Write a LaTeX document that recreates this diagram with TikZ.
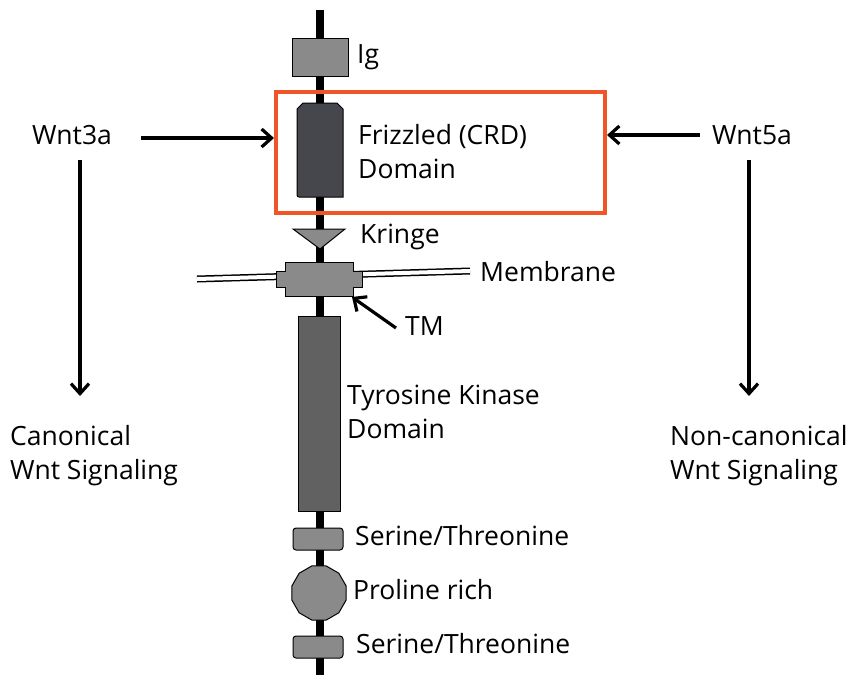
\documentclass[tikz,border=0pt]{standalone}
\usepackage{fontspec}
\setmainfont{Open Sans}
\usetikzlibrary{arrows.meta,shapes.geometric}
\definecolor{dom}{HTML}{8A8A8A}
\definecolor{dark}{HTML}{46474C}
\definecolor{tk}{HTML}{616161}
\definecolor{hl}{HTML}{F05528}
\begin{document}
\begin{tikzpicture}[x=1pt,y=-1pt,
  lbl/.style={anchor=west,inner sep=0pt,font=\fontsize{26.5}{34}\selectfont,align=left},
  ctr/.style={inner sep=0pt,font=\fontsize{26.5}{34}\selectfont},
  dombox/.style={draw=black,line width=1pt,fill=dom},
  arr/.style={line width=3.2pt,-{Straight Barb[length=10pt,width=18pt,line width=3.2pt]}}]
\useasboundingbox (0,0) rectangle (853,675);
% backbone
\draw[line width=8pt] (320,10) -- (320,675);
% membrane
\draw[line width=7pt,black] (197,279) -- (470,271);
\draw[line width=4pt,white] (197,279) -- (470,271);
% Ig
\node[dombox,minimum width=56pt,minimum height=38pt,inner sep=0pt] (ig) at (320,57) {};
\node[lbl] (iglbl) at (357,57) {Ig};
% Frizzled
\draw[fill=dark,draw=black,line width=1pt] (297,197) -- (297,109) -- (303,103) -- (337,103) -- (343,109) -- (343,197) [rounded corners=2pt] -- cycle;
\node (fz) at (320,150) {};
\node[lbl] (fzlbl) at (358,152) {Frizzled (CRD)\\Domain};
% orange box
\node[draw=hl,line width=4pt,minimum width=329pt,minimum height=121pt,inner sep=0pt] (box) at (440.5,152.5) {};
% Kringe
\draw[dombox] (293,229) -- (345,229) -- (320,249) -- cycle;
\node[lbl] (kr) at (360,237) {Kringe};
% TM
\draw[dombox] (285,262) -- (353,262) -- (353,271) -- (362,271) -- (362,287) -- (353,287) -- (353,296) -- (285,296) -- (285,287) -- (276,287) -- (276,271) -- (285,271) -- cycle;
\coordinate (tmcorner) at (352,297);
\node[lbl] (mem) at (480,272) {Membrane};
\node[lbl] (tm) at (405,326) {TM};
\draw[arr] (396,328) -- (tmcorner);
% Tyrosine kinase
\node[draw=black,line width=1pt,fill=tk,minimum width=42pt,minimum height=195pt,inner sep=0pt] (tkd) at (319,413.5) {};
\node[lbl] (tklbl) at (347,412) {Tyrosine Kinase\\Domain};
% Serine/Threonine 1
\node[dombox,rounded corners=3pt,minimum width=50pt,minimum height=22pt,inner sep=0pt] (st1) at (318,539) {};
\node[lbl] (st1l) at (355,536) {Serine/Threonine};
% Proline rich
\node[dombox,regular polygon,regular polygon sides=12,minimum size=56pt,inner sep=0pt] (pr) at (319,593) {};
\node[lbl] (prl) at (353,590) {Proline rich};
% Serine/Threonine 2
\node[dombox,rounded corners=3pt,minimum width=50pt,minimum height=22pt,inner sep=0pt] (st2) at (318,647) {};
\node[lbl] (st2l) at (356,644) {Serine/Threonine};
% Wnt3a
\node[ctr] (w3) at (72,135) {Wnt3a};
\coordinate (w3a) at (141,138);
\coordinate (w3b) at (80,160);
\node[lbl] (can) at (10,456) {Canonical\\Wnt Signaling};
\draw[arr] (w3a) -- (box.west |- w3a);
\draw[arr] (w3b) -- (80,396);
% Wnt5a
\node[ctr] (w5) at (752,135) {Wnt5a};
\coordinate (w5a) at (700,135);
\coordinate (w5b) at (749,160);
\node[lbl] (ncan) at (670,456) {Non-canonical\\Wnt Signaling};
\draw[arr] (w5a) -- (box.east |- w5a);
\draw[arr] (w5b) -- (749,396);
\end{tikzpicture}
\end{document}
